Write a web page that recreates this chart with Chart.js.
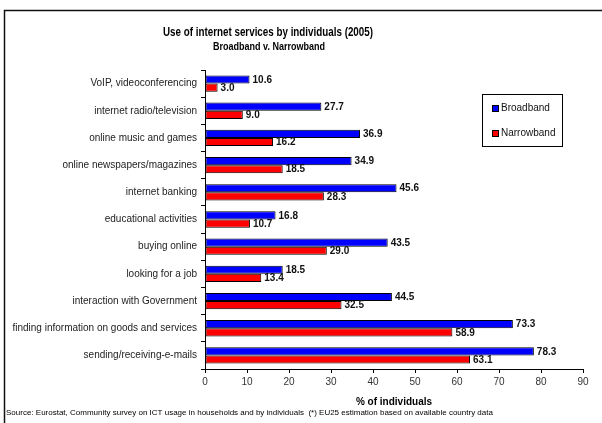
<!DOCTYPE html>
<html>
<head>
<meta charset="utf-8">
<script src="https://cdn.jsdelivr.net/npm/chart.js@4/dist/chart.umd.min.js"></script>
<style>
  html, body { margin: 0; padding: 0; background: #fff; }
  canvas { display: block; }
</style>
</head>
<body>
<canvas id="usageChart" width="602" height="423"></canvas>
<script>
// data
const categories = [
    'VoIP, videoconferencing',
    'internet radio/television',
    'online music and games',
    'online newspapers/magazines',
    'internet banking',
    'educational activities',
    'buying online',
    'looking for a job',
    'interaction with Government',
    'finding information on goods and services',
    'sending/receiving-e-mails'
];
const broadband = [10.6, 27.7, 36.9, 34.9, 45.6, 16.8, 43.5, 18.5, 44.5, 73.3, 78.3];
const narrowband = [3.0, 9.0, 16.2, 18.5, 28.3, 10.7, 29.0, 13.4, 32.5, 58.9, 63.1];
const xTicks = [0, 10, 20, 30, 40, 50, 60, 70, 80, 90];

const titleText = 'Use of internet services by individuals (2005)';
const subtitleText = 'Broadband v. Narrowband';
const sourceText = 'Source: Eurostat, Community survey on ICT usage in households and by individuals  (*) EU25 estimation based on available country data';

const FONT = '"Liberation Sans", Arial, sans-serif';

// the original titles use a narrow bold face, so squeeze the text to its width
function narrowText(ctx, text, x, y, width) {
    const w = ctx.measureText(text).width;
    ctx.save();
    ctx.translate(x, y);
    ctx.scale(Math.min(1, width / w), 1);
    ctx.fillText(text, 0, 0);
    ctx.restore();
}

// frame, titles, legend, source line and value labels
const decorPlugin = {
    id: 'decor',
    afterDraw(chart) {
        const ctx = chart.ctx;
        ctx.save();

        // outer frame (only top and left edges show in the picture)
        ctx.strokeStyle = '#111';
        ctx.lineWidth = 1.5;
        ctx.beginPath();
        ctx.moveTo(4.5, 423);
        ctx.lineTo(4.5, 10.5);
        ctx.lineTo(602, 10.5);
        ctx.stroke();

        // titles
        ctx.fillStyle = '#000';
        ctx.textAlign = 'center';
        ctx.textBaseline = 'middle';
        ctx.font = 'bold 13px ' + FONT;
        narrowText(ctx, titleText, 268, 32, 210);
        ctx.font = 'bold 11px ' + FONT;
        narrowText(ctx, subtitleText, 269, 47, 112);

        // value labels at the end of each bar
        ctx.font = 'bold 10px ' + FONT;
        ctx.textAlign = 'left';
        ctx.fillStyle = '#111';
        chart.data.datasets.forEach(function(ds, i) {
            chart.getDatasetMeta(i).data.forEach(function(bar, j) {
                ctx.fillText(ds.data[j].toFixed(1), bar.x + 3, bar.y + 0.5);
            });
        });

        // legend box
        const lx = 482, ly = 94, lw = 80, lh = 52;
        ctx.fillStyle = '#fff';
        ctx.fillRect(lx, ly, lw, lh);
        ctx.strokeStyle = '#000';
        ctx.lineWidth = 1;
        ctx.strokeRect(lx + 0.5, ly + 0.5, lw, lh);
        ctx.font = '10px ' + FONT;
        chart.data.datasets.forEach(function(ds, i) {
            const y = ly + 14 + i * 25;
            ctx.fillStyle = ds.backgroundColor;
            ctx.fillRect(lx + 10, y - 3, 7, 7);
            ctx.strokeStyle = '#000';
            ctx.strokeRect(lx + 10.5, y - 2.5, 6, 6);
            ctx.fillStyle = '#111';
            ctx.fillText(ds.label, lx + 19, y + 0.5);
        });

        // source line
        ctx.font = '8px ' + FONT;
        ctx.fillStyle = '#000';
        ctx.fillText(sourceText, 6, 413);

        ctx.restore();
    }
};

const ctx = document.getElementById('usageChart').getContext('2d');

new Chart(ctx, {
    type: 'bar',
    data: {
        labels: categories,
        datasets: [{
            label: 'Broadband',
            data: broadband,
            backgroundColor: '#0000ff',
            borderColor: '#000',
            borderWidth: 1,
            borderSkipped: false
        }, {
            label: 'Narrowband',
            data: narrowband,
            backgroundColor: '#ff0000',
            borderColor: '#000',
            borderWidth: 1,
            borderSkipped: false
        }]
    },
    options: {
        indexAxis: 'y',
        responsive: false,
        animation: false,
        layout: {
            padding: { left: 0, right: 19, top: 70, bottom: 0 }
        },
        datasets: {
            bar: {
                categoryPercentage: 0.6,
                barPercentage: 1.0
            }
        },
        scales: {
            x: {
                min: 0,
                max: 90,
                afterBuildTicks: function(scale) {
                    scale.ticks = xTicks.map(function(v) { return { value: v }; });
                },
                afterFit: function(scale) {
                    scale.height = 54;
                },
                grid: {
                    drawOnChartArea: false,
                    color: '#000',
                    tickLength: 4
                },
                border: { color: '#000' },
                ticks: {
                    padding: 3,
                    color: '#333',
                    font: { family: FONT, size: 10 }
                },
                title: {
                    display: true,
                    text: '% of individuals',
                    color: '#000',
                    padding: { top: 0, bottom: 15 },
                    font: { family: FONT, size: 10, weight: 'bold' }
                }
            },
            y: {
                afterFit: function(scale) {
                    scale.width = 205;
                },
                grid: {
                    drawOnChartArea: false,
                    color: '#000',
                    tickLength: 4
                },
                border: { color: '#000' },
                ticks: {
                    padding: 4,
                    color: '#222',
                    font: { family: FONT, size: 10 }
                }
            }
        },
        plugins: {
            legend: { display: false },
            tooltip: { enabled: false }
        }
    },
    plugins: [decorPlugin]
});
</script>
</body>
</html>
